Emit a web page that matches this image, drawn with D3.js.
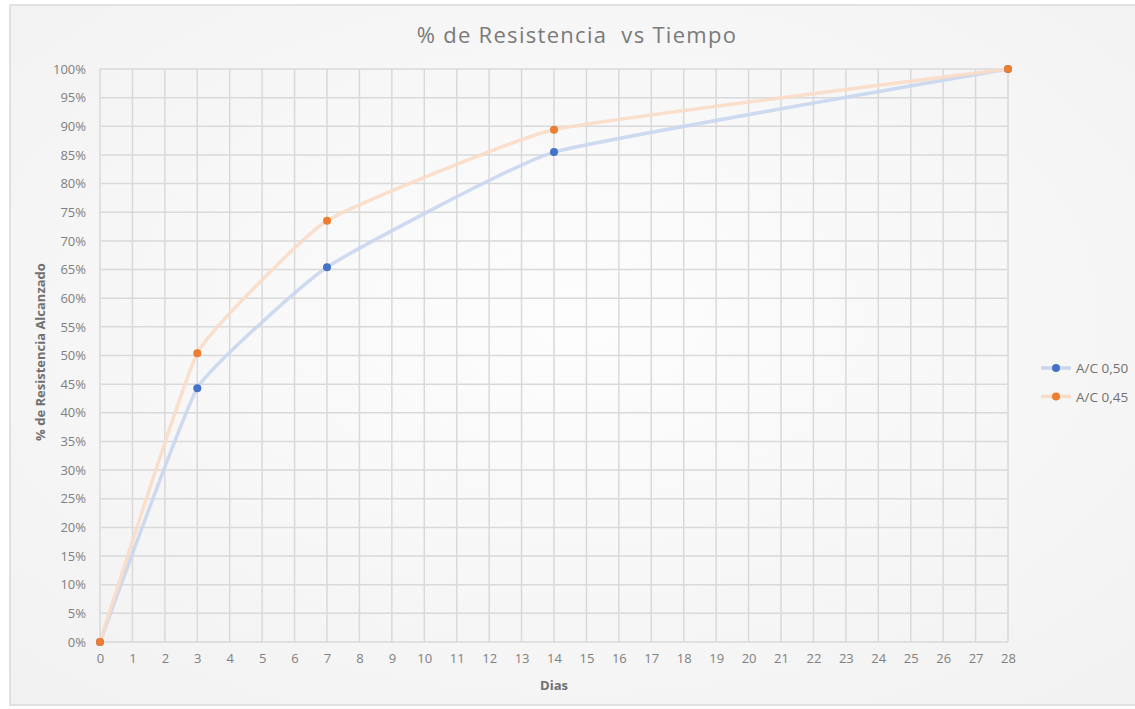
<!DOCTYPE html>
<html>
<head>
<meta charset="utf-8">
<script src="https://d3js.org/d3.v7.min.js"></script>
<style>
  body { margin: 0; background: #fff; overflow: hidden; }
  text { font-family: "Open Sans", "Noto Sans", sans-serif; }
  .tick text { fill: #7f7f7f; font-size: 13px; }
  .title { fill: #7a7a7a; font-size: 22px; letter-spacing: 1.3px; white-space: pre; }
  .axis-label { fill: #707070; font-size: 13px; font-weight: bold; }
  .legend text { fill: #707070; font-size: 13.5px; }
</style>
</head>
<body>
<svg width="1135" height="709"></svg>
<script>
// values
var days = [0, 3, 7, 14, 28];
var ac050 = [0, 44.3, 65.4, 85.5, 100];
var ac045 = [0, 50.4, 73.5, 89.4, 100];
var seriesNames = ["A/C 0,50", "A/C 0,45"];
var xTicks = d3.range(0, 29);
var yTicks = d3.range(0, 101, 5);

var svg = d3.select("svg");

// background panel with soft gradient
var defs = svg.append("defs");
var grad = defs.append("radialGradient").attr("id", "bg")
  .attr("cx", "50%").attr("cy", "45%").attr("r", "75%");
grad.append("stop").attr("offset", "0%").attr("stop-color", "#fdfdfd");
grad.append("stop").attr("offset", "100%").attr("stop-color", "#f1f1f1");

svg.append("rect")
  .attr("x", 10).attr("y", 5).attr("width", 1130).attr("height", 700)
  .attr("fill", "url(#bg)")
  .attr("stroke", "#d9d9d9").attr("stroke-width", 1.5);

var margin = {left: 100, top: 69, right: 1008, bottom: 642};

var x = d3.scaleLinear().domain([0, 28]).range([margin.left, margin.right]);
var y = d3.scaleLinear().domain([0, 100]).range([margin.bottom, margin.top]);

// grid
var grid = svg.append("g").attr("stroke", "#d9d9d9").attr("stroke-width", 1.5);
grid.selectAll(".v").data(xTicks).enter().append("line")
  .attr("x1", function (d) { return x(d); }).attr("x2", function (d) { return x(d); })
  .attr("y1", y(0)).attr("y2", y(100));
grid.selectAll(".h").data(yTicks).enter().append("line")
  .attr("x1", x(0)).attr("x2", x(28))
  .attr("y1", function (d) { return y(d); }).attr("y2", function (d) { return y(d); });

// axes
var xAxis = svg.append("g")
  .attr("transform", "translate(0," + y(0) + ")")
  .call(d3.axisBottom(x).tickValues(xTicks).tickSize(0).tickPadding(12));
xAxis.select(".domain").remove();

var yAxis = svg.append("g")
  .attr("transform", "translate(" + x(0) + ",0)")
  .call(d3.axisLeft(y).tickValues(yTicks).tickSize(0).tickPadding(14)
    .tickFormat(function (d) { return d + "%"; }));
yAxis.select(".domain").remove();

// lines (light smoothing like the spreadsheet)
var line = d3.line()
  .x(function (d) { return x(d[0]); })
  .y(function (d) { return y(d[1]); })
  .curve(d3.curveCardinal.tension(0.65));

var series = [
  {name: seriesNames[0], values: days.map(function (d, i) { return [d, ac050[i]]; }), line: "#c9d6ee", dot: "#4472c4"},
  {name: seriesNames[1], values: days.map(function (d, i) { return [d, ac045[i]]; }), line: "#f9dcc6", dot: "#ed7d31"}
];

series.forEach(function (s) {
  svg.append("path")
    .datum(s.values)
    .attr("d", line)
    .attr("fill", "none")
    .attr("stroke", s.line)
    .attr("stroke-width", 3.5)
    .attr("stroke-opacity", 0.9);
});

series.forEach(function (s) {
  svg.selectAll(null).data(s.values).enter().append("circle")
    .attr("cx", function (d) { return x(d[0]); })
    .attr("cy", function (d) { return y(d[1]); })
    .attr("r", 4)
    .attr("fill", s.dot);
});

// title and axis labels
svg.append("text").attr("class", "title")
  .attr("x", 577).attr("y", 43).attr("text-anchor", "middle")
  .text("% de Resistencia  vs Tiempo");

svg.append("text").attr("class", "axis-label")
  .attr("x", 554).attr("y", 690).attr("text-anchor", "middle")
  .text("Dias");

svg.append("text").attr("class", "axis-label")
  .attr("transform", "translate(45,352) rotate(-90)")
  .attr("text-anchor", "middle")
  .text("% de Resistencia Alcanzado");

// legend
var legend = svg.append("g").attr("class", "legend");
series.forEach(function (s, i) {
  var ly = 368 + i * 28.5;
  legend.append("line")
    .attr("x1", 1041).attr("x2", 1071).attr("y1", ly).attr("y2", ly)
    .attr("stroke", s.line).attr("stroke-width", 3.5);
  legend.append("circle").attr("cx", 1056).attr("cy", ly).attr("r", 4).attr("fill", s.dot);
  legend.append("text").attr("x", 1076).attr("y", ly + 5).text(s.name);
});
</script>
</body>
</html>
